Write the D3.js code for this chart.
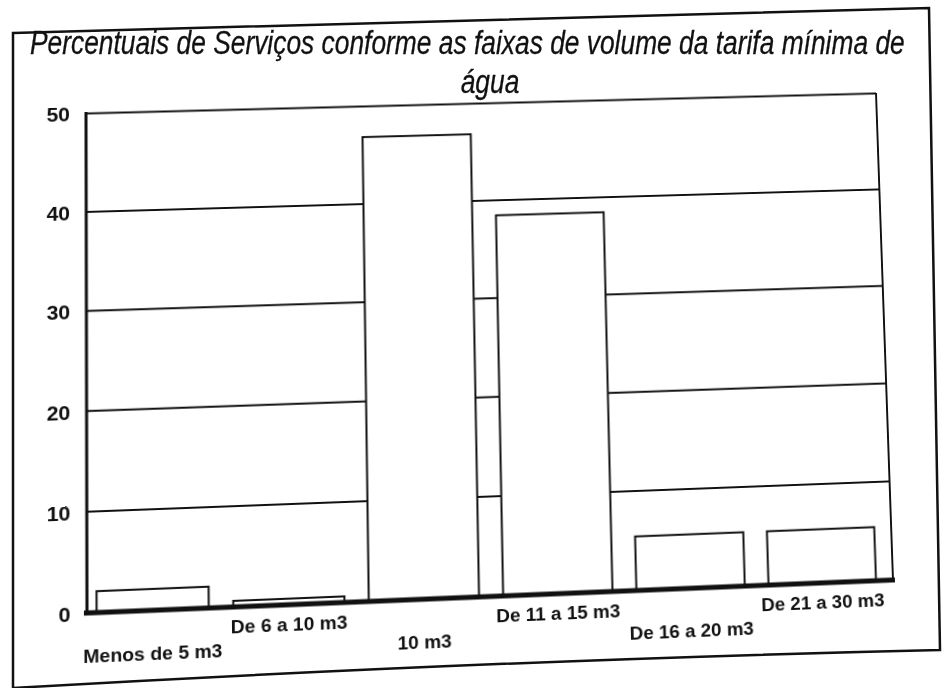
<!DOCTYPE html>
<html><head><meta charset="utf-8">
<script src="https://cdn.jsdelivr.net/npm/d3@7"></script>
<style>
html,body{margin:0;padding:0;background:#fff;}
#wrap{position:relative;width:948px;height:688px;overflow:hidden;background:#fff;}
#plot,#over{position:absolute;left:0;top:0;}
#plot{transform-origin:0 0;}
</style></head><body>
<div id="wrap"><svg id="plot" width="948" height="688"></svg><svg id="over" width="948" height="688"></svg></div>
<script>
// ---- data ----
const categories = ["Menos de 5 m3", "De 6 a 10 m3", "10 m3", "De 11 a 15 m3", "De 16 a 20 m3", "De 21 a 30 m3"];
const values = [2.1, 0.6, 46.8, 38.4, 5.4, 5.4];
const yTicks = [0, 10, 20, 30, 40, 50];
const titleLines = ["Percentuais de Serviços conforme as faixas de volume da tarifa mínima de", "água"];

// ---- layout (clean coordinates) ----
const x0 = 86, x1 = 893, yTop = 113, yBot = 615;
const ink = "#111";

const x = d3.scaleBand().domain(categories).range([x0, x1]).paddingInner(0.18).paddingOuter(0.1).align(0.35);
const y = d3.scaleLinear().domain([0, 50]).range([yBot, yTop]);

const svg = d3.select("#plot");
const g = svg.append("g");

// gridlines + y labels
const gy = g.append("g").attr("transform", `translate(${x0},0)`)
  .call(d3.axisLeft(y).tickValues(yTicks).tickSize(-(x1 - x0)).tickPadding(16));
gy.select(".domain").remove();
gy.selectAll(".tick line").attr("stroke", ink).attr("stroke-width", 2);
gy.selectAll(".tick text").attr("fill", ink).attr("font-family", "Liberation Sans, Arial, sans-serif")
  .attr("font-weight", "bold").attr("font-size", 21).attr("dy", "0.38em");

// right border
g.append("line").attr("x1", x1).attr("x2", x1).attr("y1", y(50)).attr("y2", y(0))
  .attr("stroke", ink).attr("stroke-width", 2);

// bars
g.append("g").selectAll("rect").data(categories).join("rect")
  .attr("x", d => x(d)).attr("width", x.bandwidth())
  .attr("y", (d, i) => y(values[i])).attr("height", (d, i) => y(0) - y(values[i]))
  .attr("fill", "#fff").attr("stroke", ink).attr("stroke-width", 2);

// baseline and left axis
g.append("line").attr("x1", x0 - 3).attr("x2", x1 + 2).attr("y1", y(0)).attr("y2", y(0))
  .attr("stroke", ink).attr("stroke-width", 5);
g.append("line").attr("x1", x0).attr("x2", x0).attr("y1", y(50) - 1).attr("y2", y(0))
  .attr("stroke", ink).attr("stroke-width", 3);

// x labels (staggered)
const gx = g.append("g").attr("transform", `translate(0,${y(0)})`)
  .call(d3.axisBottom(x).tickSize(0));
gx.select(".domain").remove();
gx.selectAll(".tick text").attr("fill", ink).attr("font-family", "Liberation Sans, Arial, sans-serif")
  .attr("font-weight", "bold").attr("font-size", 19)
  .attr("dy", 0).attr("y", (d, i) => i % 2 === 0 ? 49 : 26);

// ---- perspective of the scanned page ----
function homography(src, dst) {
  const A = [], b = [];
  for (let i = 0; i < 4; i++) {
    const [sx, sy] = src[i], [u, v] = dst[i];
    A.push([sx, sy, 1, 0, 0, 0, -sx * u, -sy * u]); b.push(u);
    A.push([0, 0, 0, sx, sy, 1, -sx * v, -sy * v]); b.push(v);
  }
  const n = 8;
  for (let c = 0; c < n; c++) {
    let p = c;
    for (let r = c + 1; r < n; r++) if (Math.abs(A[r][c]) > Math.abs(A[p][c])) p = r;
    [A[c], A[p]] = [A[p], A[c]]; [b[c], b[p]] = [b[p], b[c]];
    for (let r = c + 1; r < n; r++) {
      const f = A[r][c] / A[c][c];
      for (let k = c; k < n; k++) A[r][k] -= f * A[c][k];
      b[r] -= f * b[c];
    }
  }
  const h = new Array(n).fill(0);
  for (let r = n - 1; r >= 0; r--) {
    let s = b[r];
    for (let k = r + 1; k < n; k++) s -= A[r][k] * h[k];
    h[r] = s / A[r][r];
  }
  return h;
}
const src = [[x0, yTop], [x1, yTop], [x1, yBot], [x0, yBot]];
const dst = [[86, 113], [876, 93], [893, 580], [87, 613]];
const h = homography(src, dst);
document.getElementById("plot").style.transform =
  `matrix3d(${h[0]},${h[3]},0,${h[6]},${h[1]},${h[4]},0,${h[7]},0,0,1,0,${h[2]},${h[5]},0,1)`;

// ---- frame and title ----
const over = d3.select("#over");
over.append("path")
  .attr("d", "M13,33 L929,8 L940,650 Q500,660 13,688 Z")
  .attr("fill", "none").attr("stroke", ink).attr("stroke-width", 2.5);
const t = over.append("g").attr("fill", ink).attr("stroke", ink).attr("stroke-width", 0.3)
  .attr("font-family", "Liberation Sans, Arial, sans-serif")
  .attr("font-style", "italic").attr("font-size", 33);
const t1 = t.append("text").attr("x", 0).attr("y", 0).text(titleLines[0]);
const w1 = t1.node().getComputedTextLength();
t1.attr("transform", `translate(30,54) scale(${875 / w1},1)`);
const t2 = t.append("text").attr("x", 0).attr("y", 0).attr("text-anchor", "middle").text(titleLines[1]);
t2.attr("transform", `translate(490,93) scale(${875 / w1},1)`);
</script>
</body></html>
